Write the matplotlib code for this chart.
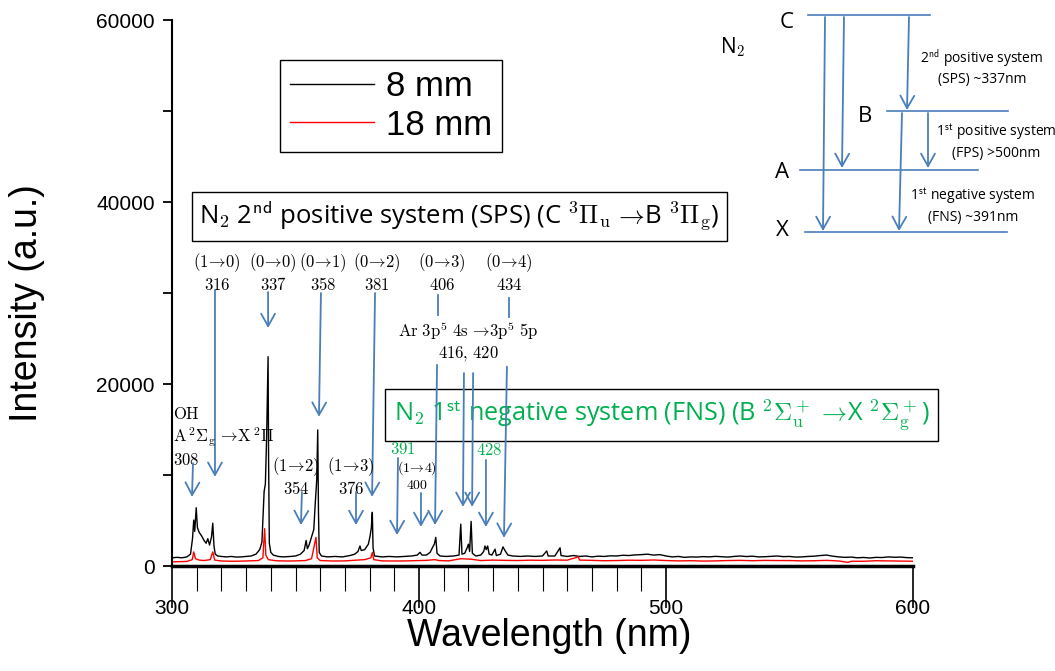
import matplotlib
matplotlib.use('Agg')
import matplotlib.pyplot as plt

plt.rcParams['mathtext.fontset'] = 'cm'
plt.rcParams['font.family'] = ['Liberation Sans', 'DejaVu Sans']

# spectrum, 8 mm (black)
wl_8mm = [300, 302, 304, 306, 307.5, 308.3, 308.8, 309.2, 309.8, 310.3, 311, 312, 313, 313.8,
          314.5, 315.2, 316, 316.5, 317, 317.5, 318.5, 320, 322, 324, 326, 328, 330, 332, 334,
          335.5, 336.4, 337.0, 337.3, 337.8, 338.3, 338.7, 338.9, 339.1, 339.4, 340, 341, 343,
          345, 348, 350, 352, 353.5, 354.3, 354.8, 355.5, 356.5, 357.4, 358, 358.6, 359.0,
          359.3, 359.6, 360.5, 363, 366, 369, 372, 374, 375.3, 376.1, 376.6, 378, 379.5, 380.2,
          380.7, 381.1, 381.4, 382, 385, 388, 391, 394, 397, 399.3, 400.4, 401.2, 403, 404.5,
          405.4, 406.2, 406.8, 407.3, 408.5, 411, 414, 416.2, 416.9, 417.4, 418.5, 419.5, 420.0,
          420.5, 421.1, 421.6, 423, 425, 426.2, 426.7, 427.2, 427.8, 428.4, 429.5, 430.8, 431.3,
          433, 434.0, 434.8, 436, 438, 441, 444, 447, 450, 451.7, 452.3, 455, 457.1, 457.5, 460,
          462.5, 465, 467.5, 470, 472.5, 475, 477.5, 480, 482.5, 485, 487.5, 490, 492.5, 495,
          497.5, 500, 502.5, 505, 507.5, 510, 512.5, 515, 517.5, 520, 522.5, 525, 527.5, 530,
          532.5, 535, 537.5, 540, 542.5, 545, 547.5, 550, 552.5, 555, 557.5, 560, 562.5, 565,
          567.5, 570, 572.5, 575, 577.5, 580, 582.5, 585, 587.5, 590, 592.5, 595, 597.5, 600]
int_8mm = [900, 950, 900, 1000, 1300, 3000, 5050, 3800, 6400, 4200, 3700, 3300, 2800, 2500,
           3000, 2300, 3200, 4700, 2200, 1300, 1100, 1050, 1000, 1050, 980, 1000, 1050, 1100, 1300,
           1800, 2600, 6500, 8200, 9000, 14000, 20000, 23000, 12000, 2500, 1500, 1200, 1050,
           1000, 1050, 1100, 1300, 1700, 2800, 1900, 2300, 3200, 4000, 6900, 9500, 14950,
           6000, 1500, 1100, 1000, 1050, 1000, 1150, 1300, 1600, 2200, 1700, 1800, 2400, 3300,
           4200, 5900, 2000, 1100, 1000, 1050, 1000, 1050, 1100, 1200, 1500, 1200, 1200, 1500,
           2000, 2400, 3150, 1400, 1100, 1050, 1100, 1200, 4600, 1300, 1400, 2000, 2400,
           1600, 4900, 1400, 1100, 1200, 1600, 2200, 1800, 2200, 1300, 1200, 1850, 1150,
           1300, 2100, 1700, 1200, 1100, 1050, 1100, 1050, 1100, 1650, 1100, 1100, 2000, 1150, 1050,
           1150, 1050, 1100, 1000, 1080, 1050, 1120, 1100, 1180, 1150, 1220, 1250, 1300, 1200,
           1250, 1100, 1000, 1050, 950, 1000, 980, 1030, 1000, 1060, 1020, 980, 1050, 1100,
           1040, 1080, 1000, 1020, 1060, 1100, 1030, 1050, 980, 1000, 1050, 1080, 1150, 1200,
           1080, 1000, 950, 980, 900, 940, 880, 950, 930, 1000, 960, 980, 920, 900]

# spectrum, 18 mm (red)
wl_18mm = [300, 303, 306, 308.2, 308.8, 309.5, 311, 313, 315.5, 316.5, 317.3, 320, 325, 330,
           335, 336.8, 337.5, 338, 339, 342, 346, 350, 354, 356.5, 358.3, 358.8, 360, 365, 370,
           375, 378, 380.5, 381.1, 381.7, 385, 390, 395, 400, 403, 406.5, 408, 412, 416.9, 421,
           425, 430, 435, 440, 445, 450, 455, 460, 464.5, 465, 470, 475, 480, 485, 490, 495,
           500, 505, 510, 515, 520, 525, 530, 535, 540, 545, 550, 555, 560, 565, 570, 573.7,
           575, 580, 585, 590, 595, 600]
int_18mm = [450, 480, 500, 700, 1550, 800, 650, 600, 700, 1550, 650, 550, 520, 550,
            600, 900, 4100, 1200, 700, 580, 550, 560, 600, 800, 3150, 900, 600, 550, 560,
            650, 700, 900, 1500, 700, 560, 550, 560, 600, 620, 700, 600, 560, 800, 750,
            600, 650, 620, 600, 640, 620, 660, 640, 1000, 650, 620, 580, 600, 640, 620, 660,
            600, 560, 580, 540, 560, 600, 620, 580, 620, 600, 600, 560, 580, 620, 550, 400,
            520, 520, 580, 560, 540, 520]

series_labels = ['8 mm', '18 mm']
x_ticks = [300, 400, 500, 600]
x_minor = [310, 320, 330, 340, 350, 360, 370, 380, 390, 410, 420, 430, 440, 450, 460, 470, 480, 490]
y_ticks = [0, 20000, 40000, 60000]
y_minor = [10000, 30000, 50000]

BLUE = '#4A7EBB'
GREEN = '#00B050'
ARROW = dict(arrowstyle='->,head_length=0.45,head_width=0.25', color=BLUE, lw=1.3,
             shrinkA=0, shrinkB=0, mutation_scale=20)


def arrow(a, x0, y0, x1, y1):
    a.annotate('', xy=(x1, y1), xytext=(x0, y0), arrowprops=ARROW)


W, H = 1055, 671
fig = plt.figure(figsize=(W / 100, H / 100), dpi=100)
ax = fig.add_axes([172 / W, 1 - 566 / H, 741 / W, 546 / H])

l8, = ax.plot(wl_8mm, int_8mm, color='black', lw=1.0)
l18, = ax.plot(wl_18mm, int_18mm, color='red', lw=1.0)

ax.set_xlim(300, 600)
ax.set_ylim(0, 60000)
for s in ['top', 'right']:
    ax.spines[s].set_visible(False)
ax.spines['bottom'].set_linewidth(2.5)
ax.spines['left'].set_linewidth(1.5)

ax.set_xticks(x_ticks)
ax.set_xticks(x_minor, minor=True)
ax.set_yticks(y_ticks)
ax.set_yticks(y_minor, minor=True)
ax.tick_params(axis='x', which='major', direction='out', length=30, width=1.2, pad=-6, labelsize=15)
ax.tick_params(axis='x', which='minor', direction='out', length=18, width=0.8)
ax.tick_params(axis='y', which='both', direction='out', length=6.5, width=1.3, pad=6, labelsize=15)

fig.text(27 / W, 1 - 303 / H, 'Intensity (a.u.)', rotation=90, ha='center', va='center', fontsize=27)
fig.text(549 / W, 1 - 636 / H, 'Wavelength (nm)', ha='center', va='center', fontsize=27)

leg = ax.legend([l8, l18], series_labels, loc='upper left', bbox_to_anchor=(280 / W, 1 - 60 / H),
                bbox_transform=fig.transFigure, fontsize=25, fancybox=False, edgecolor='black',
                framealpha=1, handlelength=2.4, borderaxespad=0, borderpad=0.3,
                labelspacing=0.15, handletextpad=0.35)
leg.get_frame().set_linewidth(1.0)

# system boxes
ax.text(416.4, 38400, r'N$_\mathsf{2}$ 2$^{\mathsf{nd}}$ positive system (SPS) (C $^3\Pi_\mathrm{u}$ $\!\rightarrow\!$B $^3\Pi_\mathrm{g}$)',
        ha='center', va='center', fontsize=18.5, family='Open Sans',
        bbox=dict(boxstyle='square,pad=0.3', fc='white', ec='black', lw=1.0))
ax.text(498.2, 16600, r'N$_\mathsf{2}$ 1$^{\mathsf{st}}$ negative system (FNS) (B $^2\Sigma_\mathrm{u}^+$ $\!\rightarrow\!$X $^2\Sigma_\mathrm{g}^+$)',
        ha='center', va='center', fontsize=18.2, family='Open Sans', color=GREEN,
        bbox=dict(boxstyle='square,pad=0.35', fc='none', ec='black', lw=1.0), zorder=1)

# second positive system bands
sps_labels = [r'$(1\!\rightarrow\!0)$' + '\n' + r'$316$',
              r'$(0\!\rightarrow\!0)$' + '\n' + r'$337$',
              r'$(0\!\rightarrow\!1)$' + '\n' + r'$358$',
              r'$(0\!\rightarrow\!2)$' + '\n' + r'$381$',
              r'$(0\!\rightarrow\!3)$' + '\n' + r'$406$',
              r'$(0\!\rightarrow\!4)$' + '\n' + r'$434$']
sps_text_x = [318.2, 340.9, 361.1, 383.0, 409.3, 436.4]
for lab, tx in zip(sps_labels, sps_text_x):
    ax.text(tx, 32300, lab, ha='center', va='center', fontsize=12, linespacing=1.2)
arrow(ax, 317.4, 30300, 317.4, 9800)
arrow(ax, 338.9, 30100, 338.9, 26150)
arrow(ax, 360.3, 30000, 359.5, 16400)
arrow(ax, 382.2, 30000, 381.0, 7600)
ax.plot([407.7, 407.7], [29800, 27600], color=BLUE, lw=1.3)
ax.plot([436.4, 436.4], [29400, 27400], color=BLUE, lw=1.3)
arrow(ax, 407.3, 22100, 406.5, 4500)
arrow(ax, 435.6, 21900, 434.4, 3100)

# argon lines
ax.text(419.8, 24700, r'$\mathrm{Ar\ 3p^5\ 4s\ \!\rightarrow\!3p^5\ 5p}$' + '\n' + r'$\mathrm{416{,}\ 420}$',
        ha='center', va='center', fontsize=12, linespacing=1.2)
arrow(ax, 418.2, 21200, 417.8, 6500)
arrow(ax, 421.9, 21200, 421.5, 6500)

# OH band
ax.text(300.3, 14180, r'$\mathrm{OH}$' + '\n' + r'$\mathrm{A\,^2\Sigma_g\ \!\rightarrow\!X\,^2\Pi}$' + '\n' + r'$308$',
        ha='left', va='center', fontsize=12, linespacing=1.2)
arrow(ax, 308.5, 11300, 308.1, 7600)

# weaker SPS bands
ax.text(350.2, 9890, r'$(1\!\rightarrow\!2)$' + '\n' + r'$354$', ha='center', va='center', fontsize=12, linespacing=1.1)
arrow(ax, 352.6, 8130, 352.2, 4500)
ax.text(372.5, 9890, r'$(1\!\rightarrow\!3)$' + '\n' + r'$376$', ha='center', va='center', fontsize=12, linespacing=1.1)
arrow(ax, 374.5, 8130, 374.5, 4500)
ax.text(399.2, 9890, r'$(1\!\rightarrow\!4)$' + '\n' + r'$400$', ha='center', va='center', fontsize=10, linespacing=1.1)
arrow(ax, 400.8, 8020, 400.8, 4290)

# first negative system bands
ax.text(393.5, 12860, r'$391$', ha='center', va='center', fontsize=12, color=GREEN)
arrow(ax, 391.5, 11870, 391.1, 3400)
ax.text(428.3, 12750, r'$428$', ha='center', va='center', fontsize=12, color=GREEN)
arrow(ax, 427.1, 11650, 427.1, 4290)

# energy level diagram (figure pixel space)
ov = fig.add_axes([0, 0, 1, 1])
ov.set_xlim(0, W)
ov.set_ylim(H, 0)
ov.axis('off')
ov.patch.set_alpha(0)

levels = {'C': (808, 930, 15, 787, 22), 'B': (887, 1008, 111, 865, 117),
          'A': (800, 978, 170, 782, 173), 'X': (805, 1007, 232, 782, 230)}
for name, (x0, x1, y, lx, ly) in levels.items():
    ov.plot([x0, x1], [y, y], color=BLUE, lw=1.2)
    ov.text(lx, ly, name, ha='center', va='center', fontsize=16, family='Open Sans')
ov.text(733, 47, r'N$_\mathsf{2}$', ha='center', va='center', fontsize=15, family='Open Sans')
arrow(ov, 825, 17, 823, 231)
arrow(ov, 844, 17, 842, 168)
arrow(ov, 909, 17, 907, 110)
arrow(ov, 928, 113, 928, 168)
arrow(ov, 902, 113, 899, 231)
ov.text(982, 67, r'2$^{\mathsf{nd}}$ positive system' + '\n(SPS) ~337nm', ha='center', va='center',
        fontsize=10, family='Open Sans', linespacing=1.3)
ov.text(996, 142, r'1$^{\mathsf{st}}$ positive system' + '\n(FPS) >500nm', ha='center', va='center',
        fontsize=10, family='Open Sans', linespacing=1.3)
ov.text(973, 206, r'1$^{\mathsf{st}}$ negative system' + '\n(FNS) ~391nm', ha='center', va='center',
        fontsize=10, family='Open Sans', linespacing=1.3)

fig.savefig('out.png', dpi=100)
